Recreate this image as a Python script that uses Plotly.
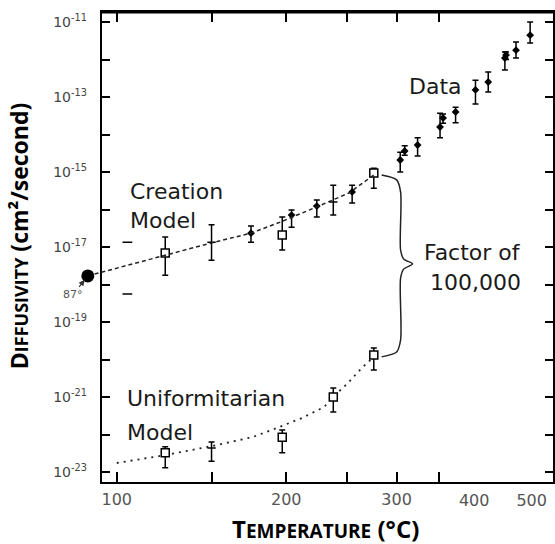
import numpy as np
import plotly.graph_objects as go

# ---------------- data ----------------
# axis ticks (degrees C) and decade exponents
tick_marks_C = [100, 150, 200, 250, 300, 350]
tick_labels_C = [100, 200, 300, 400, 500]
y_exponents = list(range(-23, -10))

# Creation model curve (T in C, log10 D)
creation_T = [87, 124, 150, 175, 196, 224, 252, 276]
creation_logD = [-17.77, -17.21, -16.89, -16.63, -16.33, -15.93, -15.56, -15.08]

# Creation model predictions (open squares)
cre_box_T = [124, 197, 276]
cre_box_logD = [-17.16, -16.68, -15.03]
cre_box_hi = [-16.73, -16.20, -14.90]
cre_box_lo = [-17.75, -17.08, -15.43]

# Uniformitarian model curve
uni_T = [100, 124, 150, 176, 197, 212, 230, 238, 252, 264, 276]
uni_logD = [-22.76, -22.55, -22.31, -22.07, -21.77, -21.56, -21.27, -21.00, -20.60, -20.23, -19.93]

# Uniformitarian model predictions (open squares)
uni_box_T = [124, 197, 238, 276]
uni_box_logD = [-22.49, -22.07, -21.00, -19.88]
uni_box_hi = [-22.33, -21.88, -20.76, -19.69]
uni_box_lo = [-22.89, -22.49, -21.40, -20.28]

# error bars without a symbol
bar_T = [150, 238, 150]
bar_logD = [-16.87, -15.80, -22.36]
bar_hi = [-16.41, -15.35, -22.20]
bar_lo = [-17.35, -16.15, -22.71]

# measured data (filled symbols)
data_T = [175, 204, 224, 255, 304, 309, 324, 352, 356, 373, 402, 422, 450, 452, 470, 497]
data_logD = [-16.63, -16.15, -15.91, -15.53, -14.68, -14.44, -14.28, -13.80, -13.56, -13.40,
             -12.81, -12.60, -11.96, -11.88, -11.75, -11.35]
data_hi = [-16.44, -16.01, -15.75, -15.35, -14.47, -14.30, -14.09, -13.43, -13.45, -13.27,
           -12.55, -12.33, -11.80, -11.80, -11.53, -11.00]
data_lo = [-16.87, -16.47, -16.20, -15.83, -15.00, -14.55, -14.57, -14.09, -13.70, -13.69,
           -13.19, -12.87, -12.28, -12.00, -11.96, -11.56]

# lone error-bar caps
cap_T = [105, 105]
cap_logD = [-16.87, -18.25]

# 87 C point
pt87_T = [87]
pt87_logD = [-17.77]

# brace between the two models at ~276 C
brace_T = [284, 300, 304.4, 304.4, 307.8, 318, 307.8, 304.4, 304.4, 300, 284]
brace_logD = [-15.08, -15.21, -15.53, -17.08, -17.32, -17.45, -17.59, -17.83, -19.48, -19.80, -19.93]


# ---------------- helpers ----------------
def u(T):
    """Arrhenius abscissa: 1000 / T(K)."""
    return 1000.0 / (np.asarray(T, dtype=float) + 273.0)


def D(logv):
    return 10.0 ** np.asarray(logv, dtype=float)


def err(center, hi, lo):
    c = D(center)
    return dict(type="data", symmetric=False, array=D(hi) - c, arrayminus=c - D(lo),
                color="black", thickness=1.5, width=3)


W, H = 555, 544
ML, MR, MT, MB = 60, 0, 12, 62        # paper margins
AXL = 102                              # left frame of the main axes (px)
PW, PH = W - ML - MR, H - MT - MB
SCALE = 300.268                        # px per unit of 1000/T


def px(x):
    return (x - ML) / PW


def py(y):
    return (H - MB - y) / PH


fig = go.Figure()

# model curves (creation curve starts at the 87 C point, left of the frame)
fig.add_trace(go.Scatter(x=u(creation_T), y=D(creation_logD), mode="lines", xaxis="x3",
                         line=dict(color="#222", width=1.5, dash="4px,3px"),
                         showlegend=False, hoverinfo="skip"))
fig.add_trace(go.Scatter(x=u(uni_T), y=D(uni_logD), mode="lines",
                         line=dict(color="#222", width=1.8, dash="2px,5px"),
                         showlegend=False, hoverinfo="skip"))

# brace
fig.add_trace(go.Scatter(x=u(brace_T), y=D(brace_logD), mode="lines",
                         line=dict(color="#222", width=1.5, shape="spline", smoothing=0.8),
                         showlegend=False, hoverinfo="skip"))

# bars without symbol
fig.add_trace(go.Scatter(x=u(bar_T), y=D(bar_logD), mode="markers",
                         marker=dict(symbol="line-ew-open", size=6, color="black",
                                     line=dict(color="black", width=1.5)),
                         error_y=err(bar_logD, bar_hi, bar_lo),
                         showlegend=False, hoverinfo="skip"))

# lone caps
fig.add_trace(go.Scatter(x=u(cap_T), y=D(cap_logD), mode="markers",
                         marker=dict(symbol="line-ew-open", size=7, color="black",
                                     line=dict(color="black", width=1.5)),
                         showlegend=False, hoverinfo="skip"))

# data
fig.add_trace(go.Scatter(x=u(data_T), y=D(data_logD), mode="markers",
                         marker=dict(symbol="diamond", size=6, color="black"),
                         error_y=err(data_logD, data_hi, data_lo),
                         showlegend=False, hoverinfo="skip"))

# model boxes
for T, c, hi, lo in [(cre_box_T, cre_box_logD, cre_box_hi, cre_box_lo),
                     (uni_box_T, uni_box_logD, uni_box_hi, uni_box_lo)]:
    fig.add_trace(go.Scatter(x=u(T), y=D(c), mode="markers",
                             marker=dict(symbol="square", size=8, color="white",
                                         line=dict(color="black", width=1.5)),
                             error_y=err(c, hi, lo),
                             showlegend=False, hoverinfo="skip"))

# 87 C point
fig.add_trace(go.Scatter(x=u(pt87_T), y=D(pt87_logD), mode="markers", xaxis="x3",
                         marker=dict(symbol="circle", size=13, color="black"),
                         showlegend=False, hoverinfo="skip"))

# dummy trace for the second x axis (labels 400, 500)
fig.add_trace(go.Scatter(x=[None], y=[None], xaxis="x2", showlegend=False, hoverinfo="skip"))

u100 = float(u(100))
xr = [u100 + (117 - AXL) / SCALE, u100 - (W - MR - 117) / SCALE]
xr3 = [u100 + (117 - ML) / SCALE, u100 - (W - MR - 117) / SCALE]
yr = [-11 - (H - MB - 22) / 37.5, -11 + (22 - MT) / 37.5]
xdom = [(AXL - ML) / PW, 1]

tickfont_x = dict(family="DejaVu Sans", size=16, color="#555")
x_major = [t for t in tick_marks_C if t in tick_labels_C]
x_minor = [t for t in tick_marks_C if t not in tick_labels_C]
x_extra = [t for t in tick_labels_C if t not in tick_marks_C]
y_major = [e for e in y_exponents if e % 2]
y_minor = [e for e in y_exponents if not e % 2]

fig.update_layout(
    width=W, height=H,
    margin=dict(l=ML, r=MR, t=MT, b=MB, pad=0),
    paper_bgcolor="white", plot_bgcolor="rgba(0,0,0,0)",
    xaxis=dict(domain=xdom, range=xr, showgrid=False, zeroline=False,
               tickvals=list(u(x_major)), ticktext=[str(t) for t in x_major],
               ticks="inside", ticklen=10, tickwidth=1.5, tickcolor="black",
               minor=dict(tickvals=list(u(x_minor)), ticks="inside", ticklen=10,
                          tickwidth=1.5, tickcolor="black", showgrid=False),
               showline=True, linewidth=2, linecolor="black", mirror="ticks",
               tickfont=tickfont_x, ticklabelstandoff=2),
    xaxis2=dict(range=xr, overlaying="x", anchor="y", side="bottom",
                showgrid=False, zeroline=False, showline=False,
                tickvals=list(u(x_extra)), ticktext=[str(t) for t in x_extra],
                ticks="", tickfont=tickfont_x, ticklabelstandoff=7),
    xaxis3=dict(domain=[0, 1], range=xr3, anchor="y", visible=False),
    yaxis=dict(type="log", range=yr, showgrid=False, zeroline=False, anchor="x",
               tickvals=list(D(y_major)),
               ticktext=["10<sup>%d</sup>" % e for e in y_major],
               ticks="inside", ticklen=8, tickwidth=2, tickcolor="black",
               minor=dict(tickvals=list(D(y_minor)), ticks="inside", ticklen=8,
                          tickwidth=2, tickcolor="black", showgrid=False),
               showline=True, linewidth=2, linecolor="black", mirror="ticks",
               tickfont=dict(family="DejaVu Sans", size=14, color="#444"),
               ticklabelstandoff=10),
    showlegend=False,
)

# thicker top frame
fig.add_shape(type="line", xref="x domain", yref="paper", x0=0, x1=1, y0=1, y1=1,
              line=dict(color="black", width=3))

lab = dict(family="DejaVu Sans", size=22, color="#1a1a1a")
texts = [
    ("Creation", 128, 191, "left"),
    ("Model", 128, 220, "left"),
    ("Uniformitarian", 125, 398, "left"),
    ("Model", 125, 432, "left"),
    ("Data", 437, 86, "center"),
    ("Factor of", 474, 252, "center"),
    ("100,000", 477, 282, "center"),
]
for t, x, y, xa in texts:
    fig.add_annotation(text=t, xref="paper", yref="paper", x=px(x), y=py(y),
                       xanchor=xa, yanchor="middle", showarrow=False, font=lab)

# 87 degree label with arrow
fig.add_annotation(text="87°", x=float(u(87)), y=pt87_logD[0], xref="x3", yref="y",
                   ax=-15, ay=19, showarrow=True, arrowhead=2, arrowsize=1, arrowwidth=1.2,
                   arrowcolor="#333", standoff=5, startstandoff=0,
                   font=dict(family="DejaVu Sans", size=11, color="#555"))

title_font = dict(family="Open Sans", size=24, color="black")
fig.add_annotation(text="<b>D<span style='font-size:18px'>IFFUSIVITY</span> (cm²/second)</b>",
                   xref="paper", yref="paper", x=px(19), y=py(236), textangle=-90,
                   xanchor="center", yanchor="middle", showarrow=False,
                   font=dict(family="Open Sans", size=23, color="black"))
fig.add_annotation(text="<b>T<span style='font-size:19px'>EMPERATURE</span> (°C)</b>",
                   xref="paper", yref="paper", x=px(327), y=py(528),
                   xanchor="center", yanchor="middle", showarrow=False, font=title_font)

fig.write_html("out.html", config={"displayModeBar": False},
               post_script="document.body.style.margin='0px';document.body.style.overflow='hidden';")
